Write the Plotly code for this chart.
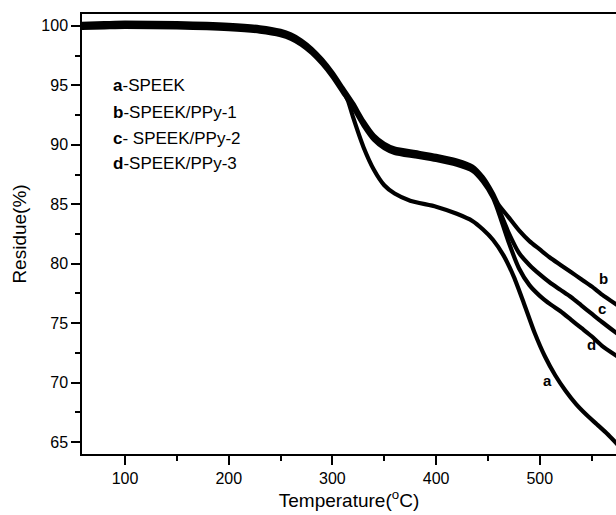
import plotly.graph_objects as go

# shared start of all four TGA curves (degC, residue %)
temp_common = [58, 80, 100, 150, 200, 230, 250, 260, 270, 280, 290, 300, 310]
resid_common = [100.0, 100.05, 100.1, 100.05, 99.9, 99.7, 99.4, 99.1, 98.6, 97.9, 97.0, 95.9, 94.6]

temp_a = [315, 320, 330, 340, 350, 360, 375, 400, 420, 435, 445, 455, 465, 475, 485, 495, 505, 515, 525, 535, 545, 555, 565, 575]
resid_a = [93.7, 92.3, 89.8, 87.9, 86.6, 85.9, 85.3, 84.8, 84.2, 83.6, 82.9, 82.0, 80.7, 78.9, 76.6, 74.2, 72.2, 70.6, 69.3, 68.2, 67.3, 66.5, 65.7, 64.8]

# b, c, d follow the same plateau before splitting near 455 degC
temp_plateau = [320, 330, 340, 350, 360, 380, 400, 420, 435, 445, 455]
resid_plateau = [93.3, 91.8, 90.6, 89.9, 89.5, 89.2, 88.9, 88.5, 88.0, 87.1, 85.7]

temp_tail = [460, 470, 480, 490, 500, 510, 520, 530, 540, 550, 560, 575]
resid_b = [85.0, 83.9, 82.8, 81.9, 81.2, 80.5, 79.9, 79.3, 78.7, 78.1, 77.4, 76.5]
resid_c = [84.7, 82.6, 80.9, 79.9, 79.1, 78.4, 77.8, 77.2, 76.5, 75.8, 75.1, 74.1]
resid_d = [84.4, 81.8, 79.6, 78.2, 77.3, 76.6, 76.0, 75.3, 74.6, 73.9, 73.1, 72.2]

# small spread inside the thick band
band_offset = {'b': 0.18, 'c': 0.0, 'd': -0.18}

legend_lines = [('a', '-SPEEK'), ('b', '-SPEEK/PPy-1'), ('c', '- SPEEK/PPy-2'), ('d', '-SPEEK/PPy-3')]
legend_y = [95.0, 92.7, 90.5, 88.4]

curve_labels = ['a', 'b', 'c', 'd']
label_x = [507, 561, 560, 550]
label_y = [70.2, 78.8, 76.2, 73.2]

FONT = "Liberation Sans, Arial, sans-serif"
LW = 4.2

fig = go.Figure()

fig.add_trace(go.Scatter(
    x=temp_common + temp_a,
    y=resid_common + resid_a,
    mode='lines',
    line=dict(color='black', width=LW, shape='spline', smoothing=0.6),
))

for name, tail in [('b', resid_b), ('c', resid_c), ('d', resid_d)]:
    off = band_offset[name]
    ys = [v + off for v in resid_common] + [v + off for v in resid_plateau] + tail
    fig.add_trace(go.Scatter(
        x=temp_common + temp_plateau + temp_tail,
        y=ys,
        mode='lines',
        line=dict(color='black', width=LW, shape='spline', smoothing=0.6),
    ))

for (letter, rest), yv in zip(legend_lines, legend_y):
    fig.add_annotation(
        x=86, y=yv, xref='x', yref='y',
        text='<b>' + letter + '</b>' + rest,
        showarrow=False, xanchor='left', yanchor='middle',
        font=dict(family=FONT, size=17, color='black'),
    )

for letter, lx, ly in zip(curve_labels, label_x, label_y):
    fig.add_annotation(
        x=lx, y=ly, xref='x', yref='y',
        text='<b>' + letter + '</b>',
        showarrow=False,
        font=dict(family=FONT, size=15, color='black'),
    )

fig.update_xaxes(
    range=[58.5, 573.5],
    tickmode='linear', tick0=0, dtick=100,
    ticks='outside', ticklen=9, tickwidth=1.5, tickcolor='black',
    minor=dict(ticks='outside', ticklen=5, tickwidth=1.5, tickcolor='black', dtick=50, tick0=0),
    showline=True, linecolor='black', linewidth=1.5, mirror=True,
    showgrid=False, zeroline=False,
    title=dict(text='Temperature(<sup>o</sup>C)', font=dict(family=FONT, size=19, color='black'), standoff=7),
    tickfont=dict(family=FONT, size=16, color='black'),
)
fig.update_yaxes(
    range=[64.0, 101.0],
    tickmode='linear', tick0=0, dtick=5,
    ticks='outside', ticklen=9, tickwidth=1.5, tickcolor='black',
    minor=dict(ticks='outside', ticklen=5, tickwidth=1.5, tickcolor='black', dtick=2.5, tick0=0),
    showline=True, linecolor='black', linewidth=1.5, mirror=False,
    showgrid=False, zeroline=False,
    title=dict(text='Residue(%)', font=dict(family=FONT, size=19, color='black'), standoff=10),
    tickfont=dict(family=FONT, size=16, color='black'),
)

fig.update_layout(
    width=616, height=515,
    margin=dict(l=82, r=0, t=14, b=61),
    paper_bgcolor='white',
    plot_bgcolor='white',
    showlegend=False,
    font=dict(family=FONT, size=16, color='black'),
)

# drop the default page margin so the figure sits at the window corner
fig.write_html(
    "out.html",
    config={'displayModeBar': False},
    post_script="document.body.style.margin='0';document.body.style.overflow='hidden';",
)
